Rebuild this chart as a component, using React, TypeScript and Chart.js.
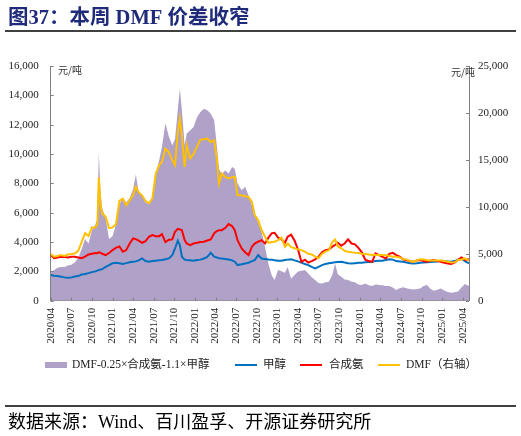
import React, { useEffect, useRef } from "react";
import { Chart, registerables } from "chart.js";

Chart.register(...registerables);

const TITLE = "图37：本周 DMF 价差收窄";
const SOURCE = "数据来源：Wind、百川盈孚、开源证券研究所";
const UNIT = "元/吨";
const LEGEND_LABELS = ["DMF-0.25×合成氨-1.1×甲醇", "甲醇", "合成氨", "DMF（右轴）"];

const xLabels = [
  "2020/04", "2020/07", "2020/10", "2021/01", "2021/04", "2021/07", "2021/10",
  "2022/01", "2022/04", "2022/07", "2022/10", "2023/01", "2023/04", "2023/07",
  "2023/10", "2024/01", "2024/04", "2024/07", "2024/10", "2025/01", "2025/04",
];

// months since 2020/04
const months = [
  0, 0.5, 1, 1.5, 2, 2.5, 3, 3.5, 4, 4.5, 5, 5.5, 6, 6.5, 6.8, 7, 7.25, 7.5, 8, 8.5,
  9, 9.5, 10, 10.5, 11, 11.5, 12, 12.4, 12.8, 13.3, 13.8, 14.3, 14.8, 15.3, 15.8, 16.2,
  16.7, 17.2, 17.7, 18.1, 18.5, 18.8, 19.1, 19.5, 19.8, 20.3, 20.8, 21.3, 21.8, 22.3,
  22.8, 23.3, 23.8, 24.2, 24.5, 24.9, 25.4, 25.9, 26.4, 26.8, 27.2, 27.8, 28.3, 28.8,
  29.3, 29.7, 30.2, 30.7, 31.2, 31.7, 32.2, 32.6, 33.1, 33.6, 34.1, 34.5, 35, 35.5,
  36, 36.5, 37, 37.5, 38, 38.5, 39, 39.5, 40, 40.5, 41, 41.4, 41.8, 42.3, 42.8, 43.3,
  43.8, 44.3, 44.8, 45.3, 45.8, 46.3, 46.8, 47.3, 47.8, 48.3, 48.8, 49.3, 49.8, 50.3,
  50.8, 51.3, 51.8, 52.3, 52.8, 53.3, 53.8, 54.3, 54.8, 55.3, 55.8, 56.3, 56.8, 57.3,
  57.8, 58.3, 58.8, 59.3, 59.8, 60.3, 60.9,
];

const methanol = [
  1750, 1700, 1680, 1640, 1590, 1560, 1580, 1650, 1680, 1780, 1820, 1880, 1950, 2000, 2050, 2100, 2120, 2150, 2300, 2420,
  2550, 2590, 2550, 2500, 2560, 2620, 2660, 2680, 2750, 2880, 2700, 2660, 2700, 2730, 2750, 2770,
  2820, 2880, 3100, 3560, 4100, 3800, 3000, 2800, 2770, 2750, 2720, 2770, 2800, 2880,
  2990, 3270, 3000, 2950, 2900, 2880, 2850, 2810, 2750, 2660, 2430, 2480, 2540, 2590,
  2700, 2770, 3110, 2880, 2850, 2810, 2800, 2760, 2720, 2720, 2770, 2800, 2820, 2750,
  2680, 2600, 2500, 2430, 2300, 2200, 2300, 2430, 2500, 2550, 2590, 2620, 2640, 2650, 2600, 2560,
  2540, 2560, 2580, 2590, 2620, 2640, 2650, 2700, 2720, 2730, 2780, 2820, 2800, 2700,
  2680, 2650, 2600, 2560, 2540, 2560, 2590, 2600, 2620, 2640, 2650, 2680, 2720, 2700,
  2680, 2650, 2700, 2800, 2880, 2700, 2540,
];

const ammonia = [
  3110, 2900, 2950, 3000, 2980, 2950, 3000, 3000, 2950, 2900, 3000, 3150, 3200, 3250, 3230, 3300, 3270, 3200, 3110, 3250,
  3450, 3600, 3700, 3340, 3450, 3900, 4250, 4200, 4100, 3950, 4050, 4360, 4470, 4400, 4400, 4540,
  4000, 4150, 4180, 4700, 4900, 4860, 4800, 4130, 3900, 3790, 3900, 3950, 4000, 4020,
  4100, 4180, 4600, 4750, 4800, 4810, 4950, 5220, 5090, 4800, 4130, 3560, 3300, 3110,
  3680, 3900, 4020, 4130, 3900, 4300, 4600, 4630, 4300, 4180, 3950, 4360, 4500, 4100,
  3500, 2650, 2800, 2600, 2700, 2820, 3000, 3300, 3450, 3500, 3680, 3800, 3950, 3750, 3900, 4180,
  3900, 3840, 3600, 3300, 2800, 2700, 2650, 3220, 3100, 2990, 2880, 3200, 3270, 3110,
  3000, 2820, 2750, 2700, 2650, 2750, 2770, 2700, 2650, 2720, 2770, 2700, 2650, 2580,
  2540, 2500, 2600, 2780, 2950, 2780, 2820,
];

const dmf = [
  4970, 4690, 4770, 4860, 4770, 4920, 4970, 5030, 5310, 6250, 7190, 6880, 7810, 7810, 8130, 13130, 10160, 9300, 8940, 7730,
  7810, 8130, 10630, 10860, 10160, 10700, 11250, 12130, 11560, 11230, 10630, 10360, 10890, 13550, 14440, 14780,
  16200, 15840, 14970, 14440, 17970, 19380, 17500, 14250, 16560, 15140, 15630, 16410, 17160, 17190,
  17270, 16910, 17090, 14970, 12480, 13550, 13190, 13020, 13160, 13190, 11230, 11230, 11130, 11060,
  10530, 9130, 8590, 7530, 6810, 6170, 6250, 6280, 6450, 6720, 5750, 6090, 5700, 5580,
  5470, 5390, 5220, 5000, 4920, 4690, 4530, 5000, 5220, 5390, 6250, 6530, 5780, 5580, 5310, 5220,
  5160, 5110, 5080, 5000, 4970, 4920, 4880, 4860, 4860, 4860, 4840, 4770, 4690, 4670,
  4610, 4450, 4380, 4220, 4140, 4300, 4410, 4380, 4300, 4280, 4270, 4270, 4270, 4220,
  4140, 4060, 4090, 4330, 4380, 4500, 4270,
];

const spread = [
  1900, 2100, 2250, 2300, 2300, 2400, 2450, 2600, 2900, 3500, 4200, 3900, 4800, 5200, 5600, 10100, 7500, 6300, 5600, 4200,
  4400, 5200, 6600, 7000, 6700, 7000, 7600, 8600, 7400, 7200, 6700, 6600, 6900, 8600, 9600, 10500,
  12100, 11200, 10600, 11000, 13000, 14450, 13000, 10600, 11400, 11600, 11840, 12500, 12870, 13090,
  12980, 12750, 12300, 10500, 9000, 8600, 8890, 8670, 9120, 9000, 7990, 7530, 7760, 7190,
  6510, 6000, 5300, 4700, 3680, 2500, 1700, 1410, 2090, 2000, 1910, 2300, 1500, 1750,
  1990, 2050, 2090, 1860, 1600, 1410, 1200, 1180, 1250, 1300, 1750, 2540, 1800, 1640, 1450, 1410,
  1300, 1250, 1100, 1070, 1180, 1050, 1000, 1100, 1070, 1050, 1000, 1000, 900, 730,
  850, 910, 850, 800, 770, 800, 840, 1000, 1070, 800, 680, 750, 840, 700,
  600, 540, 580, 620, 900, 1130, 1000,
];

const COLORS = {
  area: "#b0a1c9",
  methanol: "#0070c0",
  ammonia: "#ff0000",
  dmf: "#ffc000",
  title: "#1f2a7a",
  axis: "#808080",
};

const SERIF = '"Liberation Serif", "Times New Roman", "Noto Sans CJK SC", serif';

const fmt = (v: number) => Number(v).toLocaleString("en-US");

const decoPlugin = {
  id: "deco",
  afterDatasetsDraw(chart: any) {
    const ctx = chart.ctx;
    const { left, right, bottom } = chart.chartArea;
    ctx.save();
    ctx.strokeStyle = COLORS.axis;
    ctx.lineWidth = 1;
    const xs = chart.scales.x;
    xs.ticks.forEach((t: any) => {
      const px = Math.round(xs.getPixelForValue(t.value)) + 0.5;
      ctx.beginPath();
      ctx.moveTo(px, bottom);
      ctx.lineTo(px, bottom - 3);
      ctx.stroke();
    });
    const yl = chart.scales.yL;
    yl.ticks.forEach((t: any) => {
      const py = Math.round(yl.getPixelForValue(t.value)) + 0.5;
      ctx.beginPath();
      ctx.moveTo(left, py);
      ctx.lineTo(left + 3, py);
      ctx.stroke();
    });
    const yr = chart.scales.yR;
    yr.ticks.forEach((t: any) => {
      const py = Math.round(yr.getPixelForValue(t.value)) + 0.5;
      ctx.beginPath();
      ctx.moveTo(right, py);
      ctx.lineTo(right - 3, py);
      ctx.stroke();
    });
    ctx.restore();
  },
  afterDraw(chart: any) {
    const ctx = chart.ctx;
    ctx.save();
    // title
    ctx.fillStyle = COLORS.title;
    ctx.font = 'bold 20.5px "Liberation Serif", "Noto Sans CJK SC", serif';
    ctx.textBaseline = "alphabetic";
    ctx.textAlign = "left";
    ctx.fillText(TITLE, 8, 24);
    ctx.strokeStyle = "#404040";
    ctx.lineWidth = 2;
    ctx.beginPath();
    ctx.moveTo(5, 31);
    ctx.lineTo(516, 31);
    ctx.stroke();

    // units
    ctx.fillStyle = "#333";
    ctx.font = '10px "Noto Sans CJK SC", sans-serif';
    ctx.textBaseline = "middle";
    ctx.fillText(UNIT, 58, 70);
    ctx.fillText(UNIT, 451, 72);

    // legend
    const ly = 365;
    ctx.font = `11.5px ${SERIF}`;
    ctx.textBaseline = "middle";
    ctx.fillStyle = COLORS.area;
    ctx.fillRect(45, ly - 3, 22, 6);
    ctx.fillStyle = "#222";
    ctx.fillText(LEGEND_LABELS[0], 72, ly);
    const lineItems = [
      { x: 235, tx: 263, c: COLORS.methanol, t: LEGEND_LABELS[1] },
      { x: 300, tx: 329, c: COLORS.ammonia, t: LEGEND_LABELS[2] },
      { x: 378, tx: 406, c: COLORS.dmf, t: LEGEND_LABELS[3] },
    ];
    lineItems.forEach((it) => {
      ctx.strokeStyle = it.c;
      ctx.lineWidth = 2;
      ctx.beginPath();
      ctx.moveTo(it.x, ly);
      ctx.lineTo(it.x + 22, ly);
      ctx.stroke();
      ctx.fillStyle = "#222";
      ctx.fillText(it.t, it.tx, ly);
    });

    // source
    ctx.strokeStyle = "#000";
    ctx.lineWidth = 1.5;
    ctx.beginPath();
    ctx.moveTo(5, 406);
    ctx.lineTo(516, 406);
    ctx.stroke();
    ctx.fillStyle = "#000";
    ctx.font = `18px ${SERIF}`;
    ctx.textBaseline = "alphabetic";
    ctx.fillText(SOURCE, 8, 428);
    ctx.restore();
  },
};

export default function App() {
  const ref = useRef<HTMLCanvasElement | null>(null);
  useEffect(() => {
    if (!ref.current) return;
    const pts = (arr: number[]) => months.map((m, i) => ({ x: m, y: arr[i] }));
    const tickFont = { family: SERIF, size: 11 };
    const chart = new Chart(ref.current, {
      type: "line",
      data: {
        datasets: [
          {
            label: LEGEND_LABELS[0],
            data: pts(spread),
            yAxisID: "yL",
            fill: "origin",
            backgroundColor: COLORS.area,
            borderWidth: 0,
            borderColor: COLORS.area,
            pointRadius: 0,
            order: 4,
          },
          {
            label: LEGEND_LABELS[1],
            data: pts(methanol),
            yAxisID: "yL",
            borderColor: COLORS.methanol,
            borderWidth: 2,
            pointRadius: 0,
            fill: false,
            order: 3,
          },
          {
            label: LEGEND_LABELS[2],
            data: pts(ammonia),
            yAxisID: "yL",
            borderColor: COLORS.ammonia,
            borderWidth: 2,
            pointRadius: 0,
            fill: false,
            order: 2,
          },
          {
            label: LEGEND_LABELS[3],
            data: pts(dmf),
            yAxisID: "yR",
            borderColor: COLORS.dmf,
            borderWidth: 2,
            pointRadius: 0,
            fill: false,
            order: 1,
          },
        ],
      } as any,
      options: {
        animation: false,
        responsive: false,
        maintainAspectRatio: false,
        layout: { padding: { top: 66, left: 0, right: 0, bottom: 0 } },
        plugins: { legend: { display: false }, tooltip: { enabled: false } },
        scales: {
          x: {
            type: "linear",
            min: 0,
            max: 60.9,
            grid: { display: false, drawTicks: false },
            border: { display: true, color: COLORS.axis, width: 1 },
            ticks: {
              stepSize: 3,
              maxTicksLimit: 100,
              includeBounds: false,
              autoSkip: false,
              maxRotation: 90,
              minRotation: 90,
              padding: 7,
              color: "#222",
              font: tickFont,
              callback: (v: any) => xLabels[Math.round(Number(v) / 3)] ?? "",
            },
            afterFit: (s: any) => {
              s.height = 135.3;
            },
          },
          yL: {
            position: "left",
            min: 0,
            max: 16000,
            grid: { display: false, drawTicks: false },
            border: { display: true, color: COLORS.axis, width: 1 },
            ticks: { stepSize: 2000, padding: 12, color: "#222", font: tickFont, callback: (v: any) => fmt(v) },
            afterFit: (s: any) => {
              s.width = 50.7;
            },
          },
          yR: {
            position: "right",
            min: 0,
            max: 25000,
            grid: { display: false, drawTicks: false },
            border: { display: true, color: COLORS.axis, width: 1 },
            ticks: { stepSize: 5000, padding: 9, color: "#222", font: tickFont, callback: (v: any) => fmt(v) },
            afterFit: (s: any) => {
              s.width = 52;
            },
          },
        },
      } as any,
      plugins: [decoPlugin],
    });
    return () => chart.destroy();
  }, []);
  return (
    <div style={{ position: "absolute", left: 0, top: 0, width: 521, height: 436, background: "#fff" }}>
      <canvas ref={ref} width={521} height={436} style={{ width: 521, height: 436, display: "block" }} />
    </div>
  );
}
